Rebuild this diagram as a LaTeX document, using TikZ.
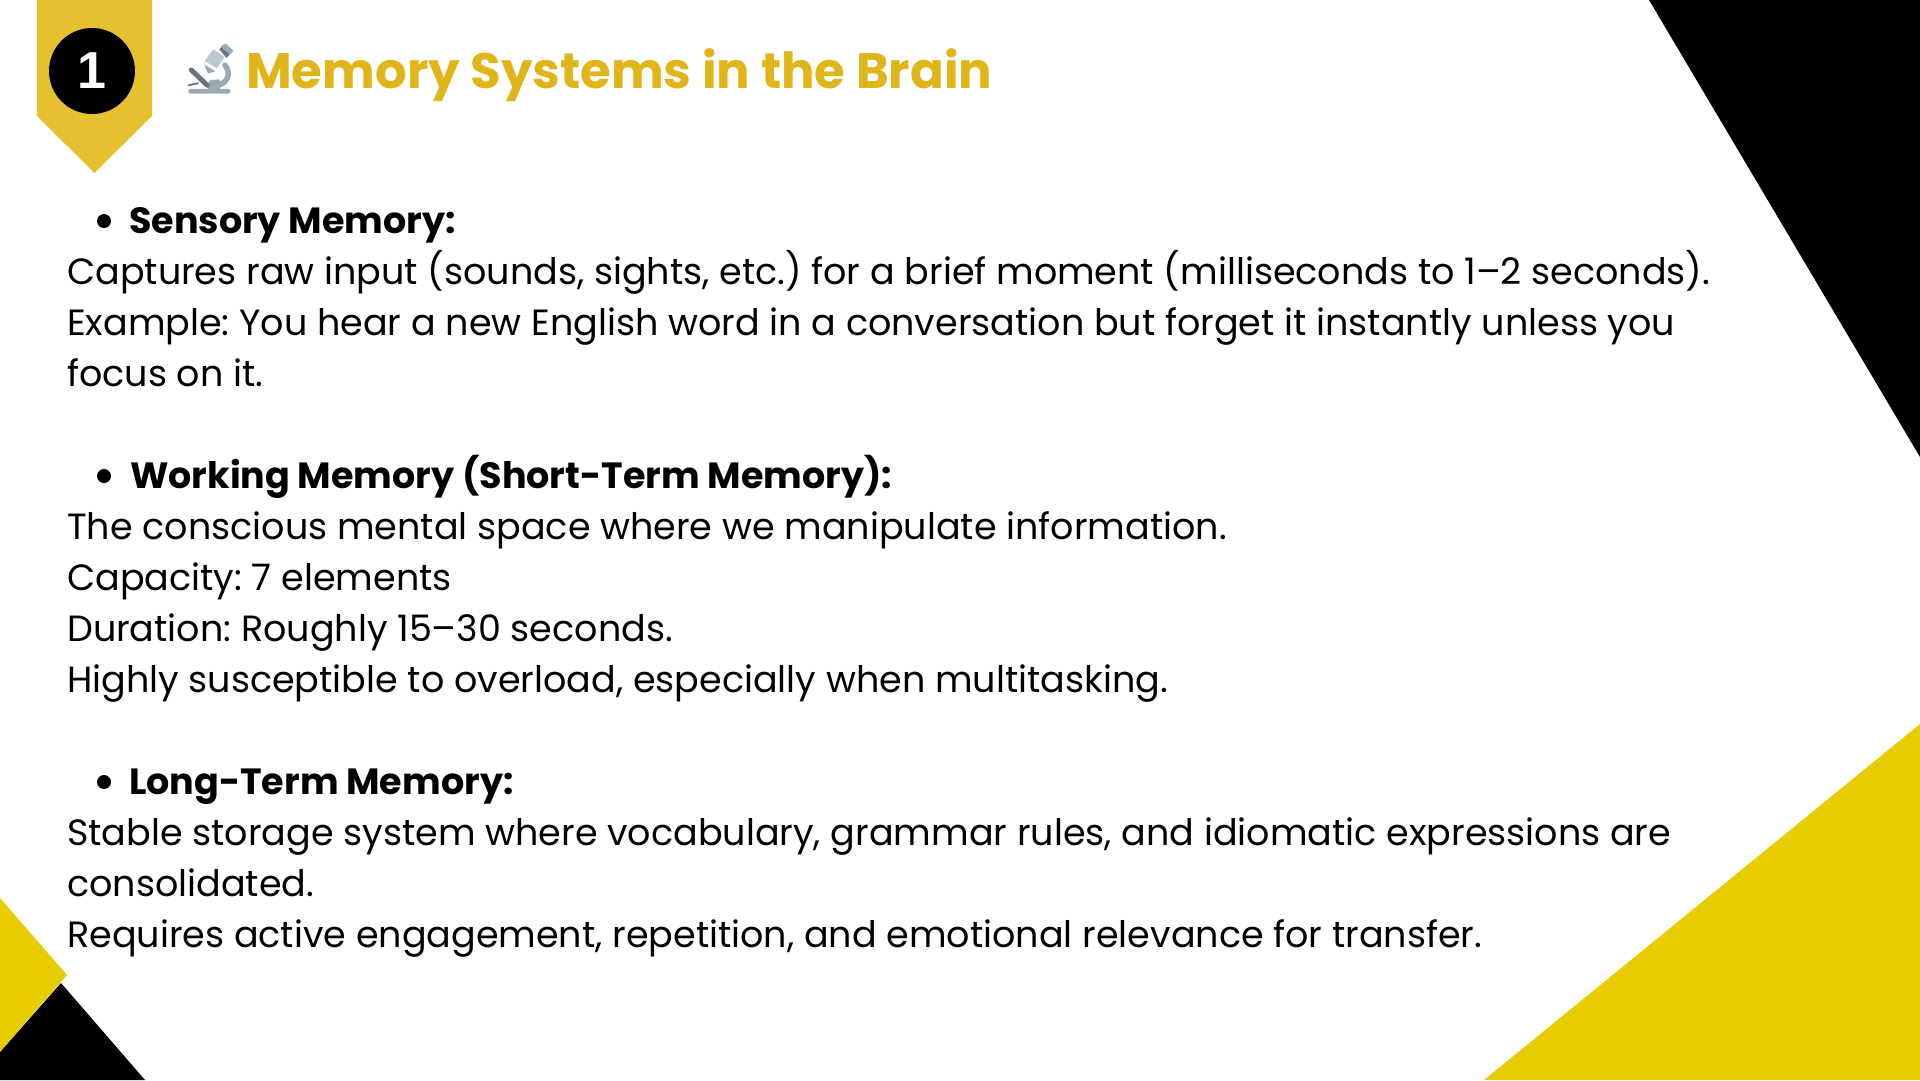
\documentclass[tikz,border=0pt]{standalone}
\usepackage{fontspec}
\setmainfont{Poppins}
\newfontfamily\numfont{Liberation Sans}
\definecolor{ribbonyellow}{HTML}{E5C12F}
\definecolor{titleyellow}{HTML}{E0B51A}
\definecolor{cornyellow}{HTML}{E6CC00}
\definecolor{scopedark}{HTML}{66757F}
\definecolor{scopemid}{HTML}{99AAB5}
\definecolor{scopelight}{HTML}{BCC8D0}
\tikzset{
  bodytext/.style={anchor=base west,inner sep=0,font=\fontsize{36.5}{44}\selectfont\frenchspacing},
  headtext/.style={anchor=base west,inner sep=0,font=\fontsize{36.5}{44}\selectfont\bfseries\frenchspacing},
  titletext/.style={anchor=base west,inner sep=0,text=titleyellow,font=\fontsize{49.8}{58}\selectfont\bfseries},
  bulletdot/.style={circle,fill=black,inner sep=0,minimum size=14}
}
\begin{document}
\begin{tikzpicture}[x=1pt,y=-1pt]
\useasboundingbox (0,0) rectangle (1920,1080);

\fill[black] (1649,0)--(1920,0)--(1920,457)--cycle; %top right
\fill[cornyellow] (1920,724)--(1920,1080)--(1484,1080)--cycle; %bottom right
\fill[black] (61,983)--(145,1080)--(0,1080)--(0,1052)--cycle; %bottom left black
\fill[cornyellow] (0,898)--(67,975)--(0,1052)--cycle; %bottom left yellow

\fill[ribbonyellow] (37,0)--(152,0)--(152,116)--(94.5,173)--(37,116)--cycle; %ribbon
\node[circle,fill=black,inner sep=0,minimum size=86,text=white,font=\fontsize{52}{58}\numfont\bfseries] (badge) at (92,71) {1}; %number

%microscope
\begin{scope}[shift={(170,30)},x=0.333pt,y=-0.333pt]
\draw[scopemid,line width=5.5,line cap=round] (165,105) .. controls (185,130) and (175,168) .. (125,168); %arm
\fill[scopemid,rounded corners=2] (112,178)--(118,150)--(150,148)--(152,178)--cycle; %stand
\draw[scopedark,line width=5,line cap=round] (64,120)--(112,166); %stage arm
\draw[scopedark,line width=1.8,line cap=round] (56,166)--(84,160); %slide
\fill[scopemid,rounded corners=1.5] (55,177)--(181,177)--(181,191)--(55,191)--cycle; %foot
\fill[scopemid] (103,104)--(136,124)--(114,131)--cycle; %lens
\fill[scopelight] (130,58)--(164,80)--(137,121)--(100,98)--cycle; %tube
\fill[white!90!scopelight] (103,93)--(141,115)--(137,121)--(100,98)--cycle; %tube band
\fill[scopedark] (148,58)--(158,48)--(182,70)--(170,84)--cycle; %collar
\fill[scopemid] (152,50)--(166,40)--(190,62)--(180,74)--cycle; %eyepiece
\end{scope}

\node[titletext] (title) at (246,88) {Memory Systems in the Brain};

\node[bulletdot] (dota) at (104,221) {};
\node[headtext] (heada) at (129,233) {Sensory Memory:};
\node[bodytext] (sa) at (67,284) {Captures raw input (sounds, sights, etc.) for a brief moment (milliseconds to 1–2 seconds).};
\node[bodytext] (sb) at (67,335) {Example: You hear a new English word in a conversation but forget it instantly unless you};
\node[bodytext] (sc) at (67,386) {focus on it.};

\node[bulletdot] (dotb) at (104,476) {};
\node[headtext] (headb) at (130,488) {Working Memory (Short-Term Memory):};
\node[bodytext] (wa) at (67,539) {The conscious mental space where we manipulate information.};
\node[bodytext] (wb) at (67,590) {Capacity: 7 elements};
\node[bodytext] (wc) at (67,641) {Duration: Roughly 15–30 seconds.};
\node[bodytext] (wd) at (67,692) {Highly susceptible to overload, especially when multitasking.};

\node[bulletdot] (dotc) at (104,782) {};
\node[headtext] (headc) at (129,794) {Long-Term Memory:};
\node[bodytext] (la) at (67,845) {Stable storage system where vocabulary, grammar rules, and idiomatic expressions are};
\node[bodytext] (lb) at (67,896) {consolidated.};
\node[bodytext] (lc) at (67,947) {Requires active engagement, repetition, and emotional relevance for transfer.};
\end{tikzpicture}
\end{document}
